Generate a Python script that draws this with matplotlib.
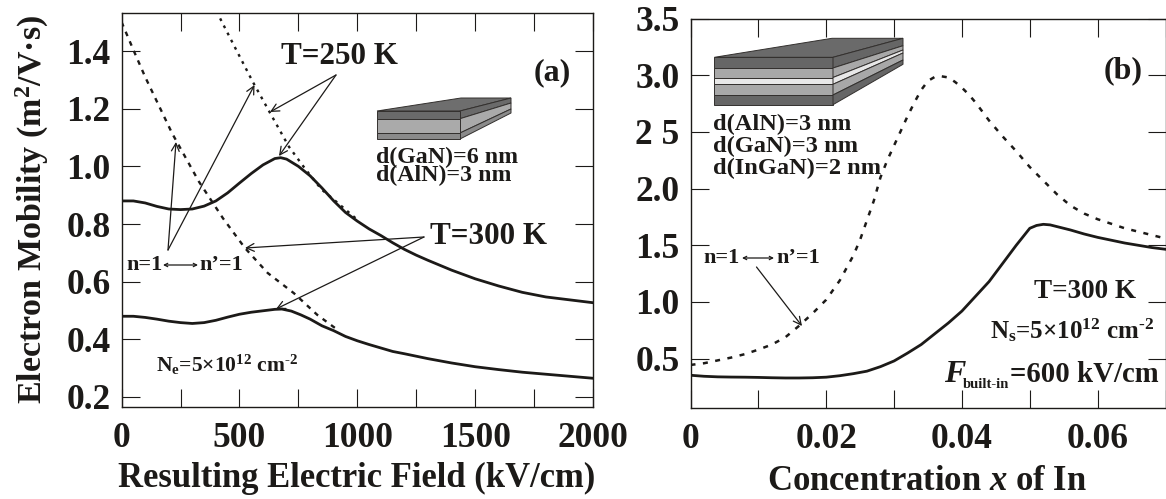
import matplotlib
matplotlib.use("Agg")
import matplotlib.pyplot as plt
from matplotlib.patches import Polygon

plt.rcParams.update({
    'font.family': ['Liberation Serif', 'DejaVu Serif'], 'font.weight': 'bold',
    'mathtext.fontset': 'custom', 'mathtext.rm': 'Liberation Serif:bold',
    'mathtext.it': 'Liberation Serif:italic:bold', 'mathtext.bf': 'Liberation Serif:bold',
    'mathtext.default': 'rm', 'axes.unicode_minus': False,
})

INK = '#1c1a18'
W, H = 1166, 499

# ---- panel (a) data
field_250_solid = [0, 50, 100, 150, 200, 250, 300, 350, 400, 450, 500, 550, 600, 650, 675, 700, 750, 800, 850, 900, 950, 1000, 1050, 1100, 1150, 1200, 1250, 1300, 1400, 1500, 1600, 1700, 1800, 1900, 2000]
mob_250_solid = [.880, .880, .873, .861, .852, .850, .852, .862, .880, .908, .942, .975, 1.005, 1.027, 1.03, 1.025, 1.0, .967, .925, .88, .84, .81, .783, .76, .735, .712, .692, .674, .64, .61, .585, .563, .547, .537, .527]
field_300_solid = [0, 50, 100, 150, 200, 250, 300, 350, 400, 450, 500, 550, 600, 650, 680, 720, 760, 800, 850, 900, 950, 1000, 1050, 1100, 1150, 1200, 1300, 1400, 1500, 1600, 1700, 1800, 1900, 2000]
mob_300_solid = [.48, .48, .476, .47, .463, .458, .455, .458, .466, .477, .487, .494, .499, .504, .505, .498, .485, .47, .447, .43, .41, .395, .382, .37, .358, .35, .333, .318, .305, .295, .286, .279, .272, .265]
field_300_dash = [0, 52, 100, 214, 328, 430, 523, 620, 731, 830, 921]
mob_300_dash = [1.50, 1.40, 1.31, 1.115, 0.947, 0.82, 0.717, 0.63, 0.56, 0.485, 0.43]
field_250_dash = [418, 480, 556, 630, 710, 780, 848, 900, 1000]
mob_250_dash = [1.513, 1.414, 1.294, 1.185, 1.068, 0.99, 0.92, 0.885, 0.815]

a_xticks = [0, 250, 500, 750, 1000, 1250, 1500, 1750, 2000]
a_xlabels = ['0', '', '500', '', '1000', '', '1500', '', '2000']
a_yticks = [0.2, 0.4, 0.6, 0.8, 1.0, 1.2, 1.4]
a_ylabels = ['0.2', '0.4', '0.6', '0.8', '1.0', '1.2', '1.4']

# ---- panel (b) data
conc_solid = [0, .002, .004, .006, .008, .010, .012, .014, .016, .018, .020, .022, .024, .026, .028, .030, .032, .034, .036, .038, .040, .042, .044, .046, .048, .050, .051, .052, .053, .054, .056, .058, .060, .062, .064, .066, .068, .07]
mob_solid = [.354, .345, .34, .338, .337, .335, .332, .33, .33, .332, .337, .35, .368, .39, .43, .48, .55, .625, .72, .815, .92, 1.05, 1.18, 1.34, 1.5, 1.65, 1.675, 1.685, 1.68, 1.665, 1.635, 1.6, 1.57, 1.545, 1.52, 1.5, 1.48, 1.465]
conc_dash = [0, .002, .004, .006, .008, .010, .012, .014, .016, .018, .020, .022, .024, .025, .026, .027, .028, .029, .030, .031, .032, .033, .034, .035, .036, .037, .038, .039, .040, .041, .042, .044, .046, .048, .050, .052, .054, .056, .058, .060, .062, .064, .066, .068, .07]
mob_dash = [.445, .46, .485, .51, .54, .58, .625, .69, .79, .9, 1.02, 1.19, 1.41, 1.55, 1.72, 1.89, 2.10, 2.25, 2.38, 2.51, 2.64, 2.76, 2.87, 2.95, 2.985, 2.99, 2.98, 2.94, 2.89, 2.83, 2.76, 2.60, 2.46, 2.33, 2.19, 2.07, 1.95, 1.85, 1.78, 1.73, 1.69, 1.65, 1.62, 1.59, 1.56]

b_xticks = [0, 0.01, 0.02, 0.03, 0.04, 0.05, 0.06, 0.07]
b_xlabels = ['0', '', '0.02', '', '0.04', '', '0.06', '']
b_yticks = [0.5, 1.0, 1.5, 2.0, 2.5, 3.0, 3.5]
b_ylabels = ['0.5', '1.0', '1.5', '2.0', '2 5', '3.0', '3.5']

fig = plt.figure(figsize=(W / 100, H / 100), dpi=100)


def P(x, y):
    return x / W, 1 - y / H


def make_axes(l, r, t, b):
    ax = fig.add_axes([l / W, 1 - b / H, (r - l) / W, (b - t) / H])
    for s in ax.spines.values():
        s.set_linewidth(1.0)
        s.set_color(INK)
    ax.tick_params(direction='in', length=13, width=0.8, top=True, right=True,
                   colors=INK, labelsize=25.5, pad=11)
    ax.tick_params(axis='y', pad=8)
    return ax


axa = make_axes(121.6, 593, 13.3, 406.7)
axa.set_xlim(0, 2000)
axa.set_ylim(0.2 - 9.7 / 288.3, 1.4 + 37.7 / 288.3)
axa.set_xticks(a_xticks, a_xlabels)
axa.set_yticks(a_yticks, a_ylabels)
axa.plot(field_250_dash, mob_250_dash, color=INK, lw=1.7, ls=(0, (1.2, 2.2)))
axa.plot(field_300_dash, mob_300_dash, color=INK, lw=1.7, ls=(0, (2, 2.4)))
axa.plot(field_250_solid, mob_250_solid, color=INK, lw=2.0)
axa.plot(field_300_solid, mob_300_solid, color=INK, lw=2.0)

axb = make_axes(690.5, 1165.5, 18.5, 407.7)
axb.set_xlim(0, 0.07)
axb.set_ylim(0.5 - 49 / 113.4, 3.5)
axb.set_xticks(b_xticks, b_xlabels)
axb.set_yticks(b_yticks, b_ylabels)
axb.plot(conc_dash, mob_dash, color=INK, lw=1.8, ls=(0, (2, 3)))
axb.plot(conc_solid, mob_solid, color=INK, lw=2.0)


def T(x, y, s, size, ha='left', **kw):
    fig.text(*P(x, y), s, fontsize=size, ha=ha, va='center', color=INK, **kw)


def A(x0, y0, x1, y1, style='->', ms=14):
    fig.add_artist(plt.Annotation('', xy=P(x1, y1), xytext=P(x0, y0),
                   xycoords='figure fraction', textcoords='figure fraction',
                   arrowprops=dict(arrowstyle=style, color=INK, lw=0.9, mutation_scale=ms,
                                   shrinkA=0, shrinkB=0)))


def poly(pts, color):
    fig.add_artist(Polygon([P(*p) for p in pts], closed=True, transform=fig.transFigure,
                           facecolor=color, edgecolor='#33302e', lw=0.7))


# axis titles
T(32, 209, 'Electron Mobility (m$^{2}$/V·s)', 24.5, ha='center', rotation=90)
T(357, 478, 'Resulting Electric Field (kV/cm)', 24.9, ha='center')
T(927, 481, r'Concentration $\mathit{x}$ of In', 24.9, ha='center')

# panel (a) annotations
T(281, 57, 'T=250 K', 22.4)
T(430, 237, 'T=300 K', 22.4)
T(534, 73, '(a)', 23)
T(376, 157, 'd(GaN)=6 nm', 17.2)
T(376, 175.5, 'd(AlN)=3 nm', 17.2)
T(126, 265, 'n=1', 16)
T(199, 265, 'n’=1', 16)
A(163, 265, 198, 265, '<->', 6)
T(156, 365, r'N$_{e}$=5×10$^{12}$ cm$^{\text{-2}}$', 15.5)
A(336, 75, 270, 112)
A(336, 75, 279, 156)
A(168, 250, 176, 142)
A(168, 250, 254.5, 85)
A(424, 237, 245, 248)
A(424, 237, 276, 309)

# panel (a) layered structure
poly([(377, 111), (461, 98), (511, 98), (460, 111)], '#6e6e6e')
poly([(460, 111), (511, 98), (511, 103), (460, 118.7)], '#6a6a6a')
poly([(460, 118.7), (511, 103), (511, 109), (460, 133)], '#aaaaaa')
poly([(460, 133), (511, 109), (511, 113), (460, 139)], '#8a8a8a')
poly([(377, 111), (460, 111), (460, 118.7), (377, 118.7)], '#6a6a6a')
poly([(377, 118.7), (460, 118.7), (460, 133), (377, 133)], '#aaaaaa')
poly([(377, 133), (460, 133), (460, 139), (377, 139)], '#8a8a8a')

# panel (b) annotations
T(1103.5, 70.7, '(b)', 23)
T(713, 124, 'd(AlN)=3 nm', 17.6)
T(713, 146, 'd(GaN)=3 nm', 17.6)
T(713, 168, 'd(InGaN)=2 nm', 17.6)
T(703.5, 258, 'n=1', 16)
T(776, 258, 'n’=1', 16)
A(742, 258, 774, 258, '<->', 6)
A(756.5, 267, 802, 326)
T(1034, 292, 'T=300 K', 19.5)
T(990, 330, r'N$_{s}$=5×10$^{12}$ cm$^{\text{-2}}$', 18)
T(944.5, 375, r'$\mathit{F}$', 23)
T(963, 384, 'built-in', 10.5)
T(1010, 375, '=600 kV/cm', 20.7)

# panel (b) layered structure
poly([(714.4, 57.3), (832, 38.3), (903, 38.3), (833, 57.3)], '#6a6a6a')
side = [(38.3, 57.3), (45.7, 68), (50, 77.5), (53, 84.3), (60, 95), (64.3, 104.7)]
front_cols = ['#666666', '#a8a8a8', '#e8e8e8', '#a8a8a8', '#666666']
for c, (a, b) in zip(front_cols, zip(side[:-1], side[1:])):
    poly([(714.4, a[1]), (833, a[1]), (833, b[1]), (714.4, b[1])], c)
    poly([(833, a[1]), (903, a[0]), (903, b[0]), (833, b[1])], c)

fig.savefig('out.png', dpi=100)
